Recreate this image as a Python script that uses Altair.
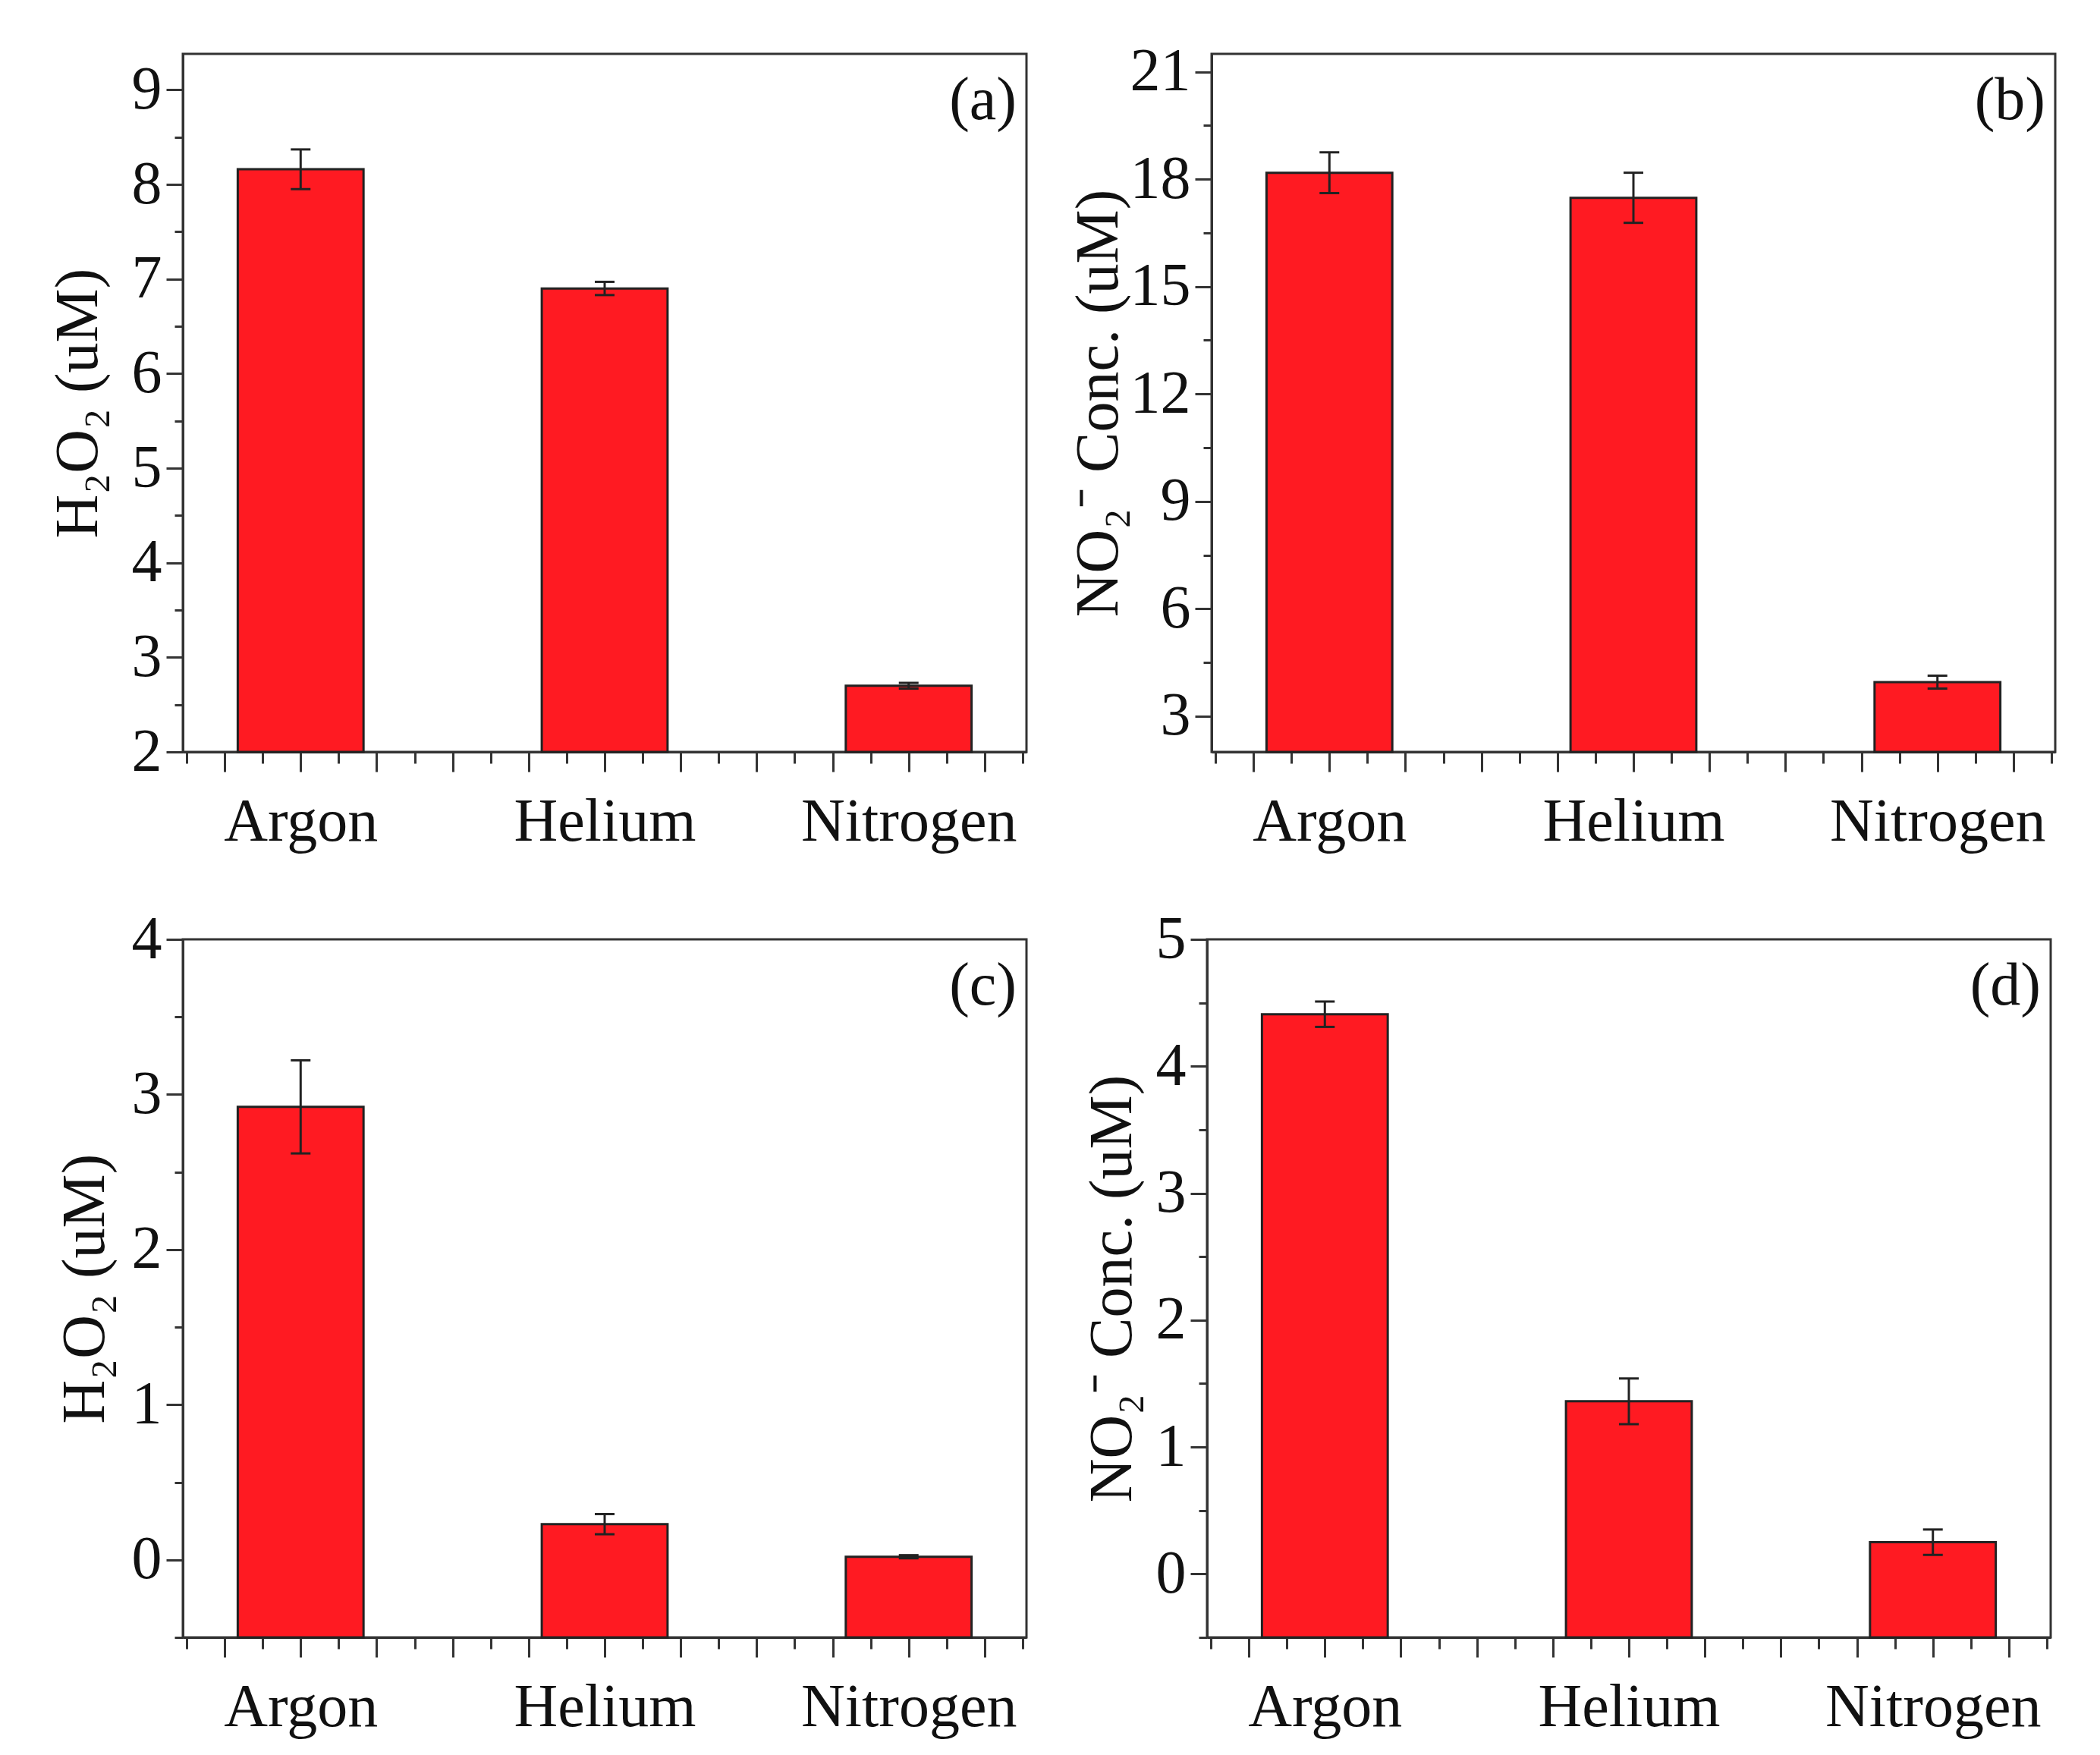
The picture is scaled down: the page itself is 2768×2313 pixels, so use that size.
import altair as alt
import pandas as pd

gases = ["Argon", "Helium", "Nitrogen"]

# panel (a): H2O2, first condition
h2o2_a = [8.16, 6.90, 2.70]
h2o2_a_err = [0.21, 0.07, 0.03]
# panel (b): NO2-, first condition
no2_b = [18.18, 17.48, 3.95]
no2_b_err = [0.57, 0.70, 0.18]
# panel (c): H2O2, second condition
h2o2_c = [2.92, 0.23, 0.02]
h2o2_c_err = [0.30, 0.065, 0.01]
# panel (d): NO2-, second condition
no2_d = [4.41, 1.36, 0.25]
no2_d_err = [0.10, 0.18, 0.10]

FONT = "Liberation Serif"
INK = "#111111"
LINE = "#333333"
RED = "#FF1A22"
W, H = 1112, 920
XMIN, XMAX = 0.625, 3.375
BAR_PX = 0.41 * W / (XMAX - XMIN)


def panel(vals, errs, ydom, step, title, letter, tpad):
    pos = list(range(1, len(gases) + 1))
    df = pd.DataFrame({
        "gas": gases,
        "pos": pos,
        "val": vals,
        "lo": [v - e for v, e in zip(vals, errs)],
        "hi": [v + e for v, e in zip(vals, errs)],
        "base": [ydom[0]] * len(gases),
    })
    half = step / 2.0
    k = int(-(-round(ydom[0] / half * 1000) // 1000))
    yvals = []
    while k * half <= ydom[1] + 1e-9:
        yvals.append(round(k * half, 6))
        k += 1
    xvals = [round(XMIN + i * 0.125, 4) for i in range(23)]
    lab = " : ".join(f"datum.value == {p} ? '{g}'" for p, g in zip(pos, gases)) + " : ''"

    xs = alt.Scale(domain=[XMIN, XMAX], nice=False, zero=False)
    ys = alt.Scale(domain=ydom, nice=False, zero=False)
    xaxis = alt.Axis(
        title=None, values=xvals, labelExpr=lab, grid=False,
        tickSize={"condition": {"test": "round(datum.value*8) % 2 == 0", "value": 26}, "value": 15},
        tickWidth=3, tickColor=LINE, domainColor=LINE, domainWidth=3,
        labelFont=FONT, labelFontSize=80, labelColor=INK, labelPadding=27,
        labelOverlap=False, labelFlush=False, labelBound=False, labelLimit=0,
    )
    test = f"abs(datum.value/{step} - round(datum.value/{step})) < 0.001"
    yaxis = alt.Axis(
        title=title, values=yvals, grid=False, format="~g",
        labelExpr=f"{test} ? datum.label : ''",
        tickSize={"condition": {"test": test, "value": 22}, "value": 11},
        tickWidth=3, tickColor=LINE, domainColor=LINE, domainWidth=3,
        labelFont=FONT, labelFontSize=80, labelColor=INK, labelPadding=6,
        labelOverlap=False, labelFlush=False, labelBound=False, labelLimit=0,
        titleFont=FONT, titleFontSize=80, titleFontWeight="normal",
        titleColor=INK, titlePadding=tpad, titleLimit=0,
    )
    X = alt.X("pos:Q", scale=xs, axis=xaxis)
    base = alt.Chart(df)
    bars = base.mark_bar(width=BAR_PX, color=RED, stroke="#222222", strokeWidth=3).encode(
        x=X, y=alt.Y("val:Q", scale=ys, axis=yaxis), y2="base:Q"
    )
    rule = base.mark_rule(color="#222222", strokeWidth=3).encode(
        x=X, y=alt.Y("lo:Q", scale=ys, axis=yaxis), y2="hi:Q"
    )
    cap_lo = base.mark_tick(orient="horizontal", size=26, thickness=3, color="#222222", opacity=1).encode(
        x=X, y=alt.Y("lo:Q", scale=ys, axis=yaxis)
    )
    cap_hi = base.mark_tick(orient="horizontal", size=26, thickness=3, color="#222222", opacity=1).encode(
        x=X, y=alt.Y("hi:Q", scale=ys, axis=yaxis)
    )
    tag = alt.Chart(pd.DataFrame({"t": [letter]})).mark_text(
        align="right", baseline="middle", dx=-8, dy=62, font=FONT, fontSize=80, color=INK
    ).encode(
        x=alt.X(datum=XMAX, scale=xs, axis=xaxis),
        y=alt.Y(datum=ydom[1], scale=ys, axis=yaxis),
        text="t:N",
    )
    return alt.layer(bars, rule, cap_lo, cap_hi, tag).properties(width=W, height=H)


pa = panel(h2o2_a, h2o2_a_err, [2, 9.38], 1, "H₂O₂ (uM)", "(a)", 29)
pb = panel(no2_b, no2_b_err, [2, 21.5], 3, "NO₂⁻ Conc. (uM)", "(b)", 0)
pc = panel(h2o2_c, h2o2_c_err, [-0.5, 4], 1, "H₂O₂ (uM)", "(c)", 20)
pd_ = panel(no2_d, no2_d_err, [-0.5, 5], 1, "NO₂⁻ Conc. (uM)", "(d)", 16)

chart = alt.vconcat(
    alt.hconcat(pa, pb, spacing=51),
    alt.hconcat(pc, pd_, spacing=69),
    spacing=71,
).properties(
    padding={"left": 53, "top": 45, "right": 5, "bottom": 0},
    background="white",
).configure_view(stroke=LINE, strokeWidth=3)

chart.save("out.html", embed_options={"renderer": "svg", "actions": False})
